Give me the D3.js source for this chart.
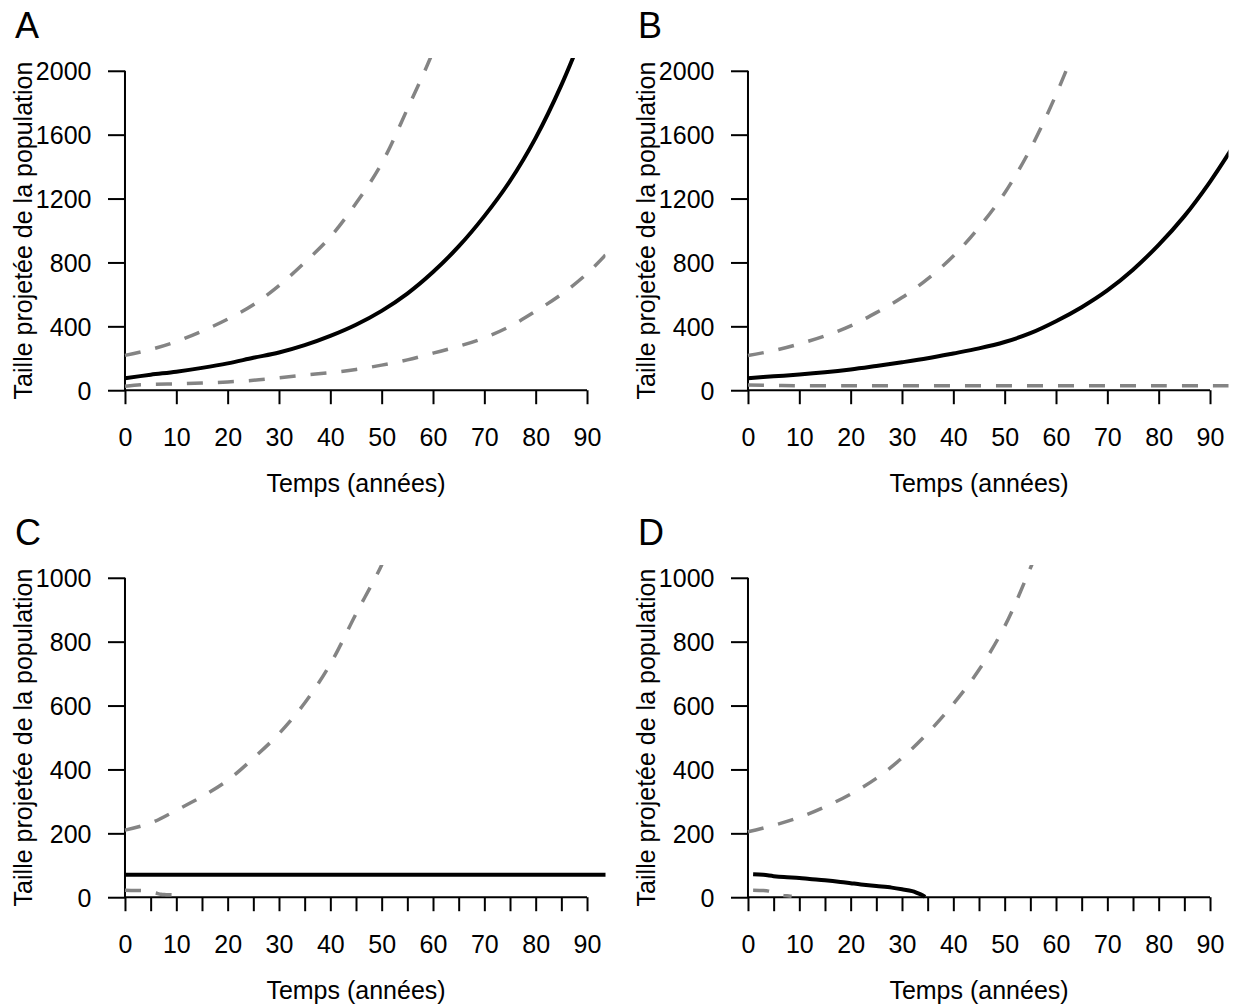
<!DOCTYPE html>
<html>
<head>
<meta charset="utf-8">
<script src="https://cdn.jsdelivr.net/npm/d3@7"></script>
<style>
  html, body { margin: 0; padding: 0; background: #ffffff; }
  svg { display: block; }
  text { font-family: "Liberation Sans", Arial, sans-serif; fill: #000; }
</style>
</head>
<body>
<svg id="chart" width="1233" height="1004"></svg>
<script>
// ---------------- data ----------------
const panelLetters = ["A", "B", "C", "D"];
const xTitle = "Temps (années)";
const yTitle = "Taille projetée de la population";

const xTicksAB = [0, 10, 20, 30, 40, 50, 60, 70, 80, 90];
const xTicksCD = [0, 5, 10, 15, 20, 25, 30, 35, 40, 45, 50, 55, 60, 65, 70, 75, 80, 85, 90];
const yTicksAB = [0, 400, 800, 1200, 1600, 2000];
const yTicksCD = [0, 200, 400, 600, 800, 1000];

// Panel A
const A_meanT  = [0, 5, 10, 15, 20, 25, 30, 35, 40, 45, 50, 55, 60, 65, 70, 75, 80, 85, 90];
const A_mean   = [75, 97, 116, 140, 168, 203, 236, 282, 340, 410, 497, 605, 740, 900, 1090, 1310, 1580, 1910, 2300];
const A_upperT = [0, 5, 10, 15, 20, 25, 30, 35, 40, 45, 50, 55, 60, 65];
const A_upper  = [218, 255, 305, 370, 445, 535, 655, 800, 960, 1170, 1420, 1760, 2120, 2550];
const A_lowerT = [0, 3, 5, 10, 15, 20, 25, 30, 35, 40, 45, 50, 55, 60, 65, 70, 75, 80, 85, 90, 94];
const A_lower  = [25, 34, 37, 40, 45, 52, 62, 78, 95, 110, 130, 157, 190, 232, 275, 328, 400, 495, 600, 730, 860];

// Panel B
const B_meanT  = [0, 5, 10, 15, 20, 25, 30, 35, 40, 45, 50, 55, 60, 65, 70, 75, 80, 85, 90, 94];
const B_mean   = [75, 87, 98, 112, 130, 152, 175, 200, 230, 262, 302, 357, 432, 520, 625, 755, 910, 1090, 1305, 1500];
const B_upperT = [0, 5, 10, 15, 20, 25, 30, 35, 40, 45, 50, 55, 60, 65, 70];
const B_upper  = [218, 248, 290, 340, 403, 486, 580, 697, 840, 1020, 1235, 1510, 1850, 2250, 2700];
const B_lowerT = [0, 5, 10, 20, 30, 40, 50, 60, 70, 80, 90, 94];
const B_lower  = [32, 30, 28, 28, 28, 28, 28, 28, 28, 28, 28, 28];

// Panel C
const C_meanT  = [0, 94];
const C_mean   = [70, 70];
const C_upperT = [0, 5, 10, 15, 20, 25, 30, 35, 40, 45, 50, 52, 55];
const C_upper  = [210, 232, 272, 315, 366, 435, 512, 608, 730, 887, 1040, 1120, 1250];
const C_lowerT = [0, 2, 4, 6, 7, 8, 10, 11];
const C_lower  = [22, 21, 20, 13, 9, 8, 7, 6];

// Panel D
const D_meanT  = [1, 3, 5, 7, 10, 12, 15, 18, 20, 22, 25, 28, 30, 32, 33, 34, 34.5];
const D_mean   = [72, 70, 66, 63, 60, 57, 53, 48, 44, 40, 35, 30, 25, 19, 13, 6, 1];
const D_upperT = [0, 5, 10, 15, 20, 25, 30, 35, 40, 45, 50, 55, 57, 60];
const D_upper  = [205, 225, 250, 283, 323, 372, 436, 514, 605, 712, 848, 1030, 1110, 1250];
const D_lowerT = [1, 3, 4, 5, 6, 7, 8, 8.5];
const D_lower  = [22, 21, 19, 14, 8, 5, 4, 3];

// ---------------- layout ----------------
const svg = d3.select("#chart");
svg.append("rect").attr("width", 1233).attr("height", 1004).attr("fill", "#fff");

const FONT = 25;
const zip = (t, v) => t.map((d, i) => ({ t: d, v: v[i] }));

const panels = [
  { letter: panelLetters[0], dx: 0,   dy: 0,   xTicks: xTicksAB, yTicks: yTicksAB, yMax: 2000,
    series: [ { d: zip(A_upperT, A_upper), dash: true }, { d: zip(A_lowerT, A_lower), dash: true }, { d: zip(A_meanT, A_mean), dash: false } ] },
  { letter: panelLetters[1], dx: 623, dy: 0,   xTicks: xTicksAB, yTicks: yTicksAB, yMax: 2000,
    series: [ { d: zip(B_upperT, B_upper), dash: true }, { d: zip(B_lowerT, B_lower), dash: true }, { d: zip(B_meanT, B_mean), dash: false } ] },
  { letter: panelLetters[2], dx: 0,   dy: 507, xTicks: xTicksCD, yTicks: yTicksCD, yMax: 1000,
    series: [ { d: zip(C_upperT, C_upper), dash: true }, { d: zip(C_lowerT, C_lower), dash: true }, { d: zip(C_meanT, C_mean), dash: false } ] },
  { letter: panelLetters[3], dx: 623, dy: 507, xTicks: xTicksCD, yTicks: yTicksCD, yMax: 1000,
    series: [ { d: zip(D_upperT, D_upper), dash: true }, { d: zip(D_lowerT, D_lower), dash: true }, { d: zip(D_meanT, D_mean), dash: false } ] }
];

// plot region (R-style 4% extension)
const L = 106.5, R = 605.5, T = 58, B = 403;

panels.forEach((p, idx) => {
  const g = svg.append("g").attr("transform", `translate(${p.dx},${p.dy})`);
  const xExt = 90 * 0.04, yExt = p.yMax * 0.04;
  const x = d3.scaleLinear().domain([-xExt, 90 + xExt]).range([L, R]);
  const y = d3.scaleLinear().domain([-yExt, p.yMax + yExt]).range([B, T]);

  // x axis at y = 0
  const xAxis = d3.axisBottom(x).tickValues(p.xTicks).tickSize(14).tickSizeOuter(0).tickPadding(24)
    .tickFormat(d => d % 10 === 0 ? d : "");
  const gx = g.append("g").attr("transform", `translate(0,${y(0)})`).call(xAxis);
  gx.select(".domain").remove();
  gx.append("line").attr("x1", x(0)).attr("x2", x(90)).attr("y1", 0).attr("y2", 0)
    .attr("stroke", "#000").attr("stroke-width", 2);
  gx.selectAll(".tick line").attr("stroke", "#000").attr("stroke-width", 2);
  gx.selectAll(".tick text").attr("font-size", FONT).attr("font-family", '"Liberation Sans", Arial, sans-serif').attr("fill", "#000");

  // y axis at x = 0
  const yAxis = d3.axisLeft(y).tickValues(p.yTicks).tickSize(17).tickSizeOuter(0).tickPadding(16.5)
    .tickFormat(d3.format("d"));
  const gy = g.append("g").attr("transform", `translate(${x(0)},0)`).call(yAxis);
  gy.select(".domain").remove();
  gy.append("line").attr("x1", 0).attr("x2", 0).attr("y1", y(0)).attr("y2", y(p.yMax))
    .attr("stroke", "#000").attr("stroke-width", 2);
  gy.selectAll(".tick line").attr("stroke", "#000").attr("stroke-width", 2);
  gy.selectAll(".tick text").attr("font-size", FONT).attr("dy", "0.36em")
    .attr("font-family", '"Liberation Sans", Arial, sans-serif').attr("fill", "#000");

  // clip
  const clipId = "clip" + idx;
  g.append("clipPath").attr("id", clipId).append("rect")
    .attr("x", L).attr("y", T).attr("width", R - L).attr("height", B - T);

  const line = d3.line().x(d => x(d.t)).y(d => y(d.v)).curve(d3.curveCatmullRom.alpha(0.5));
  const lg = g.append("g").attr("clip-path", `url(#${clipId})`);
  p.series.forEach(s => {
    lg.append("path").datum(s.d).attr("d", line).attr("fill", "none")
      .attr("stroke", s.dash ? "#848484" : "#000")
      .attr("stroke-width", s.dash ? 3.5 : 4)
      .attr("stroke-dasharray", s.dash ? "16,15" : null)
      .attr("stroke-linecap", "butt");
  });

  // titles
  g.append("text").attr("x", (L + R) / 2).attr("y", 492).attr("text-anchor", "middle")
    .attr("font-size", FONT).text(xTitle);
  g.append("text").attr("transform", `translate(32,${(T + B) / 2}) rotate(-90)`)
    .attr("text-anchor", "middle").attr("font-size", FONT).text(yTitle);
  g.append("text").attr("x", 15).attr("y", 38).attr("font-size", 36).text(p.letter);
});
</script>
</body>
</html>
